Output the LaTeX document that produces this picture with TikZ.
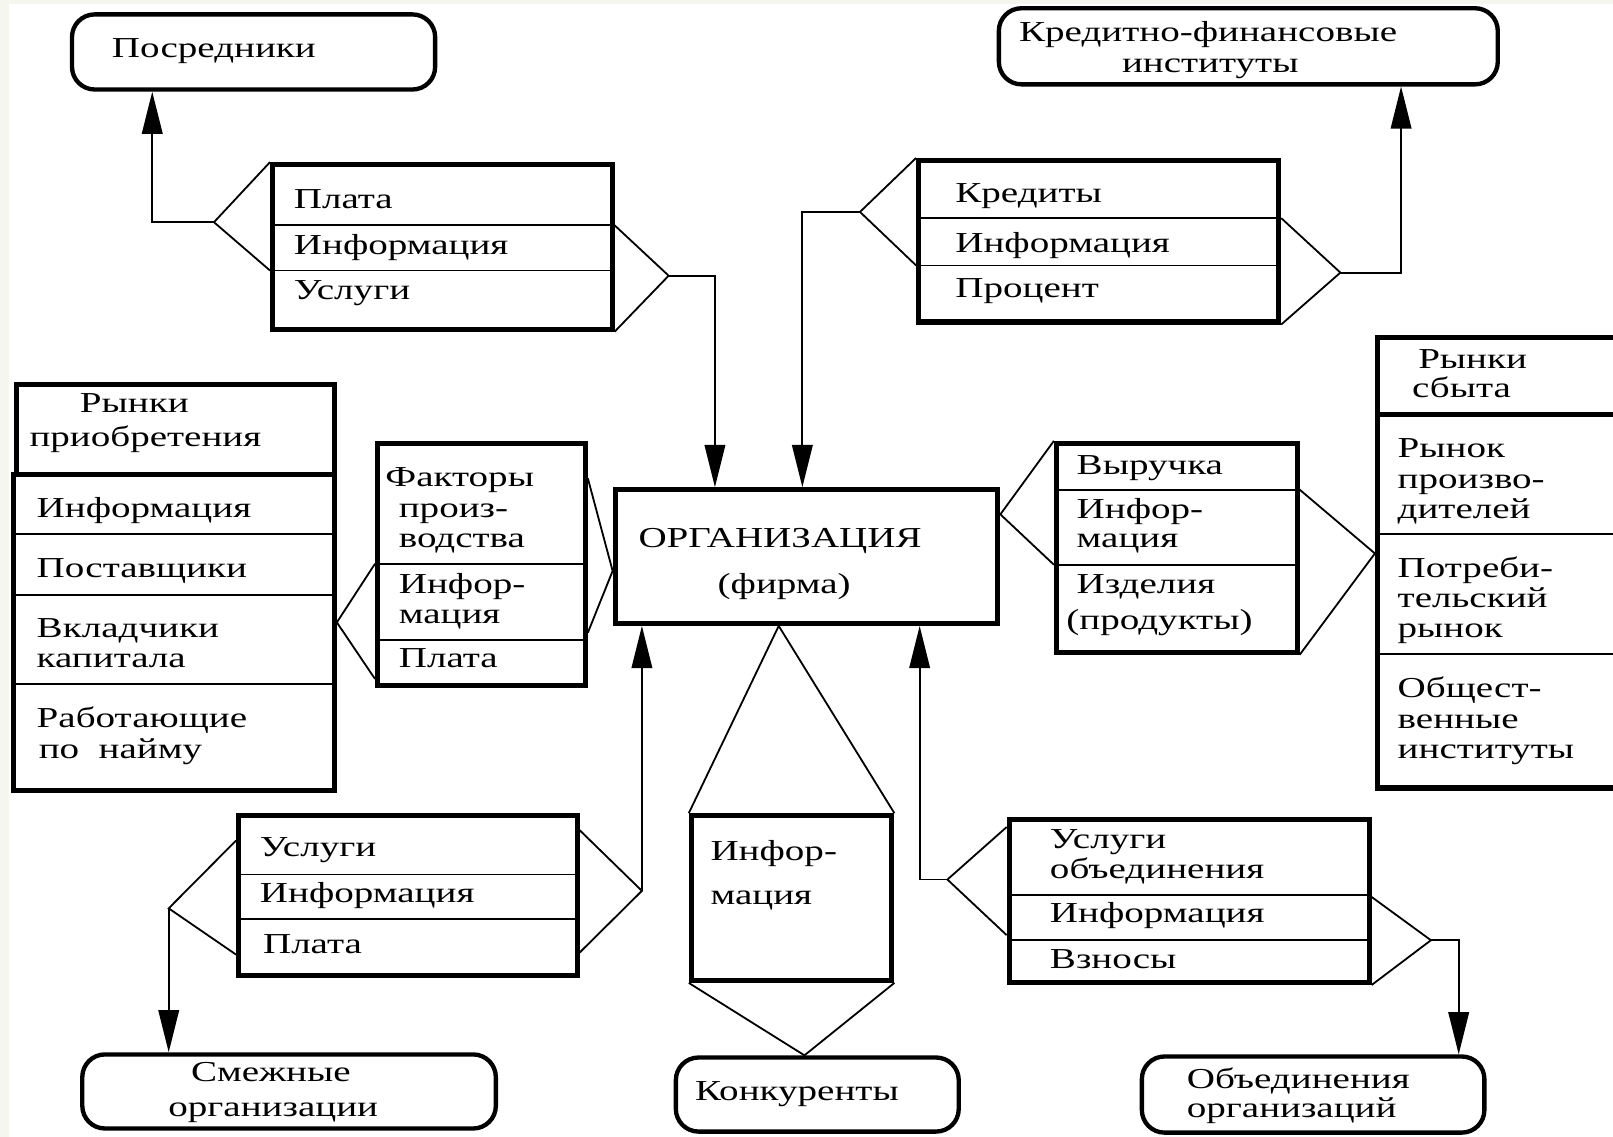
\documentclass[tikz,border=0pt]{standalone}
\usepackage{fontspec}
\setmainfont[FakeStretch=1.35]{Liberation Serif}
\usetikzlibrary{arrows.meta,fit}
\definecolor{pale}{RGB}{245,247,238}
\tikzset{
  box/.style={draw, line width=1.4pt, inner sep=0pt},
  rbox/.style={draw, line width=1.2pt, rounded corners=0.22cm, inner sep=0pt},
  divider/.style={line width=0.5pt},
  conn/.style={line width=0.5pt},
  arr/.style={line width=0.5pt, -{Triangle[length=0.41cm, width=0.2cm]}},
  txt/.style={anchor=base west, inner sep=0pt, font=\fontsize{8}{9}\selectfont}
}
\begin{document}
\begin{tikzpicture}[x=0.01cm, y=-0.01cm]
\useasboundingbox (0,0) rectangle (1568,1105);
\clip (0,0) rectangle (1568,1105);
\fill [pale] (0,0) rectangle (1568,1105);
\fill [white] (9,4) rectangle (1568,1105);

\node [rbox, fit={(70,14) (423,87)}] (mid) {};
\node [rbox, fit={(971,8) (1456,82)}] (bank) {};
\node [rbox, fit={(80,1025) (482,1097)}] (adjorg) {};
\node [rbox, fit={(657,1028) (932,1100)}] (rival) {};
\node [rbox, fit={(1110,1027) (1443,1101)}] (unionorg) {};

\node [box, fit={(265,160) (595,320)}] (pay) {};
\node [box, fit={(893,156) (1243,313)}] (credit) {};
\node [box, fit={(598,476) (970,606)}] (org) {};
\node [box, fit={(16,374) (325,461)}] (buyh) {};
\node [box, fit={(13,461) (325,768)}] (buy) {};
\node [box, fit={(367,431) (569,666)}] (factor) {};
\node [box, fit={(1339,328) (1620,403)}] (sellh) {};
\node [box, fit={(1339,403) (1620,766)}] (sellb) {};
\node [box, fit={(1027,431) (1261,634)}] (rev) {};
\node [box, fit={(232,793) (561,948)}] (adj) {};
\node [box, fit={(672,793) (867,953)}] (comp) {};
\node [box, fit={(981,797) (1331,955)}] (union) {};

\foreach \y in {219,263} \draw [divider] (pay.west |- 0,\y) -- (pay.east |- 0,\y);
\foreach \y in {212,258} \draw [divider] (credit.west |- 0,\y) -- (credit.east |- 0,\y);
\foreach \y in {519,578,665} \draw [divider] (buy.west |- 0,\y) -- (buy.east |- 0,\y);
\foreach \y in {548,622} \draw [divider] (factor.west |- 0,\y) -- (factor.east |- 0,\y);
\foreach \y in {519,636} \draw [divider] (sellb.west |- 0,\y) -- (sellb.east |- 0,\y);
\foreach \y in {476,549} \draw [divider] (rev.west |- 0,\y) -- (rev.east |- 0,\y);
\foreach \y in {850,893} \draw [divider] (adj.west |- 0,\y) -- (adj.east |- 0,\y);
\foreach \y in {870,914} \draw [divider] (union.west |- 0,\y) -- (union.east |- 0,\y);

\node [txt] (t-mid) at (108,56) {Посредники};
\node [txt] (t-bank1) at (990,40) {Кредитно-финансовые};
\node [txt] (t-bank2) at (1090,70) {институты};
\node [txt] (t-pay1) at (285,203) {Плата};
\node [txt] (t-pay2) at (285,247) {Информация};
\node [txt] (t-pay3) at (285,291) {Услуги};
\node [txt] (t-cred1) at (928,197) {Кредиты};
\node [txt] (t-cred2) at (928,245) {Информация};
\node [txt] (t-cred3) at (928,289) {Процент};
\node [txt] (t-org1) at (620,532) {ОРГАНИЗАЦИЯ};
\node [txt] (t-org2) at (697,577) {(фирма)};
\node [txt] (t-buyh1) at (77,401) {Рынки};
\node [txt] (t-buyh2) at (28,434) {приобретения};
\node [txt] (t-buy1) at (35,503) {Информация};
\node [txt] (t-buy2) at (35,561) {Поставщики};
\node [txt] (t-buy3) at (35,620) {Вкладчики};
\node [txt] (t-buy4) at (35,649) {капитала};
\node [txt] (t-buy5) at (35,707) {Работающие};
\node [txt] (t-buy6) at (37,737) {по~~найму};
\node [txt] (t-fac1) at (374,473) {Факторы};
\node [txt] (t-fac2) at (387,503) {произ-};
\node [txt] (t-fac3) at (387,532) {водства};
\node [txt] (t-fac4) at (387,577) {Инфор-};
\node [txt] (t-fac5) at (387,606) {мация};
\node [txt] (t-fac6) at (387,649) {Плата};
\node [txt] (t-sellh1) at (1378,358) {Рынки};
\node [txt] (t-sellh2) at (1372,386) {сбыта};
\node [txt] (t-sell1) at (1358,445) {Рынок};
\node [txt] (t-sell2) at (1358,475) {произво-};
\node [txt] (t-sell3) at (1358,504) {дителей};
\node [txt] (t-sell4) at (1358,561) {Потреби-};
\node [txt] (t-sell5) at (1358,591) {тельский};
\node [txt] (t-sell6) at (1358,620) {рынок};
\node [txt] (t-sell7) at (1358,678) {Общест-};
\node [txt] (t-sell8) at (1358,708) {венные};
\node [txt] (t-sell9) at (1358,737) {институты};
\node [txt] (t-rev1) at (1046,461) {Выручка};
\node [txt] (t-rev2) at (1046,504) {Инфор-};
\node [txt] (t-rev3) at (1046,532) {мация};
\node [txt] (t-rev4) at (1046,577) {Изделия};
\node [txt] (t-rev5) at (1036,612) {(продукты)};
\node [txt] (t-adj1) at (252,833) {Услуги};
\node [txt] (t-adj2) at (252,877) {Информация};
\node [txt] (t-adj3) at (255,927) {Плата};
\node [txt] (t-comp1) at (690,836) {Инфор-};
\node [txt] (t-comp2) at (690,879) {мация};
\node [txt] (t-uni1) at (1020,825) {Услуги};
\node [txt] (t-uni2) at (1020,854) {объединения};
\node [txt] (t-uni3) at (1020,897) {Информация};
\node [txt] (t-uni4) at (1020,941) {Взносы};
\node [txt] (t-adjorg1) at (185,1051) {Смежные};
\node [txt] (t-adjorg2) at (163,1085) {организации};
\node [txt] (t-rival) at (675,1070) {Конкуренты};
\node [txt] (t-uniorg1) at (1153,1058) {Объединения};
\node [txt] (t-uniorg2) at (1153,1086) {организаций};

\coordinate (payL) at (208,216);
\coordinate (payR) at (650,268);
\coordinate (credL) at (836,206);
\coordinate (credR) at (1303,265);
\coordinate (adjL) at (164,883);
\coordinate (adjR) at (624,866);
\coordinate (uniL) at (921,855);
\coordinate (uniR) at (1391,914);
\coordinate (orgC) at (org.south -| 757,0);

\draw [conn] (pay.north west) -- (payL) -- (pay.west |- 0,263);
\draw [conn] (pay.east |- 0,219) -- (payR) -- (pay.south east);
\draw [conn] (credit.north west) -- (credL) -- (credit.west |- 0,258);
\draw [conn] (credit.east |- 0,212) -- (credR) -- (credit.south east);
\draw [conn] (factor.west |- 0,548) -- (buy.east |- 0,605) -- (factor.west |- 0,660);
\draw [conn] (factor.east |- 0,465) -- (org.west |- 0,555) -- (factor.east |- 0,615);
\draw [conn] (rev.north west) -- (org.east |- 0,500) -- (rev.west |- 0,549);
\draw [conn] (rev.east |- 0,476) -- (sellb.west |- 0,538) -- (rev.south east);
\draw [conn] (adj.west |- 0,817) -- (adjL) -- (adj.west |- 0,928);
\draw [conn] (adj.east |- 0,807) -- (adjR) -- (adj.east |- 0,926);
\draw [conn] (union.west |- 0,804) -- (uniL) -- (union.west |- 0,909);
\draw [conn] (union.east |- 0,872) -- (uniR) -- (union.south east);
\draw [conn] (comp.north west) -- (orgC) -- (comp.north east);
\draw [conn] (comp.south west) -- (rival.north -| 782,0) -- (comp.south east);

\draw [arr] (payL) -| (mid.south -| 148,0);
\draw [arr] (payR) -| (org.north -| 695,0);
\draw [arr] (credL) -| (org.north -| 780,0);
\draw [arr] (credR) -| (bank.south -| 1362,0);
\draw [arr] (adjL) -- (adjorg.north -| adjL);
\draw [arr] (adjR) -- (org.south -| adjR);
\draw [arr] (uniL) -| (org.south -| 894,0);
\draw [arr] (uniR) -| (unionorg.north -| 1418,0);
\end{tikzpicture}
\end{document}
